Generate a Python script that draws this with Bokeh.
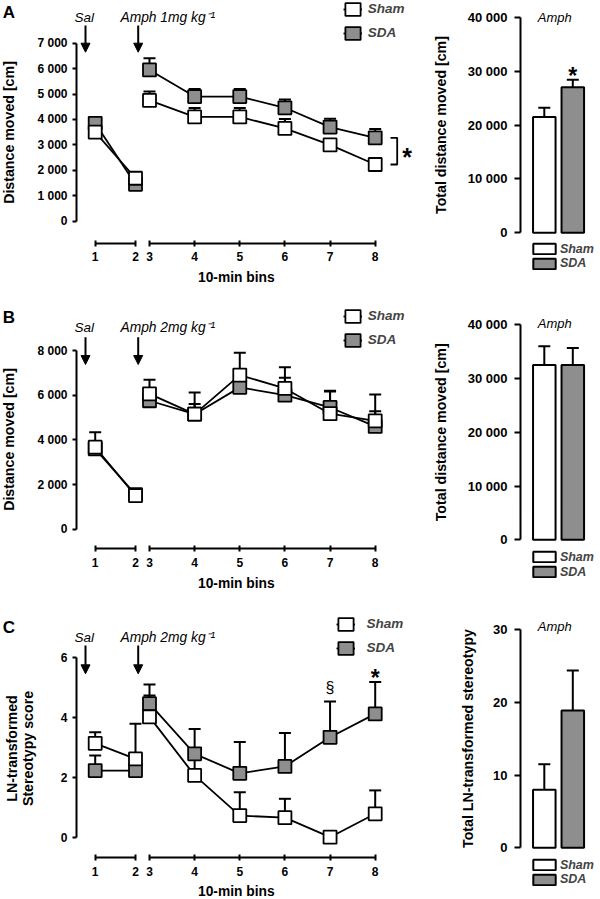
import math
from bokeh.plotting import figure
from bokeh.models import (ColumnDataSource, Range1d, LinearAxis, FixedTicker, Whisker, TeeHead,
                          Arrow, NormalHead, Label, Legend, LegendItem, CustomJSTickFormatter)
from bokeh.layouts import gridplot
from bokeh.embed import file_html
from bokeh.resources import INLINE

# ---------------- data ----------------
bins_sal = [1, 2]
bins_amph = [3, 4, 5, 6, 7, 8]
groups = ["Sham", "SDA"]

# Panel A  (Amph 1 mg/kg) distance moved [cm]
a_sham_sal = [3500, 1690]
a_sham_sal_err = [200, 150]
a_sda_sal = [3850, 1450]
a_sda_sal_err = [200, 150]
a_sham_amph = [4750, 4100, 4100, 3650, 3000, 2230]
a_sham_amph_err = [350, 350, 350, 370, 150, 150]
a_sda_amph = [5950, 4900, 4900, 4460, 3700, 3280]
a_sda_amph_err = [460, 300, 300, 330, 330, 350]
a_total = [21500, 27000]
a_total_err = [1700, 1400]
a_yticks = [0, 1000, 2000, 3000, 4000, 5000, 6000, 7000]
a_total_ticks = [0, 10000, 20000, 30000, 40000]

# Panel B  (Amph 2 mg/kg) distance moved [cm]
b_sham_sal = [3670, 1500]
b_sham_sal_err = [670, 150]
b_sda_sal = [3600, 1550]
b_sda_sal_err = [300, 150]
b_sham_amph = [6060, 5150, 6900, 6300, 5170, 4850]
b_sham_amph_err = [630, 970, 1000, 950, 1000, 1180]
b_sda_amph = [5750, 5150, 6350, 6000, 5450, 4600]
b_sda_amph_err = [400, 450, 400, 780, 750, 680]
b_total = [32500, 32500]
b_total_err = [3500, 3200]
b_yticks = [0, 2000, 4000, 6000, 8000]
b_total_ticks = [0, 10000, 20000, 30000, 40000]

# Panel C  (Amph 2 mg/kg) LN-transformed stereotypy score
c_sham_sal = [3.13, 2.61]
c_sham_sal_err = [0.37, 1.17]
c_sda_sal = [2.22, 2.22]
c_sda_sal_err = [0.50, 0.30]
c_sham_amph = [4.01, 2.06, 0.72, 0.65, 0.0, 0.78]
c_sham_amph_err = [0.71, 0.65, 0.78, 0.63, 0.0, 0.78]
c_sda_amph = [4.45, 2.78, 2.13, 2.36, 3.33, 4.11]
c_sda_amph_err = [0.64, 0.83, 1.04, 1.11, 1.19, 1.06]
c_total = [8.0, 18.9]
c_total_err = [3.5, 5.5]
c_yticks = [0, 2, 4, 6]
c_total_ticks = [0, 10, 20, 30]

# ---------------- layout / style ----------------
FONT = "Liberation Sans"
GREY = "#8e8e8e"
REF_W, REF_H = 600, 899
PAGE_W, PAGE_H = 600, 899
SX, SY = PAGE_W / REF_W, PAGE_H / REF_H
SPLIT = 425
ROW_EDGES = [0, 292, 592, 899]

LW = round(SPLIT * SX)
RW = PAGE_W - LW
cum = [round(e * SY) for e in ROW_EDGES]
cum[-1] = PAGE_H
HS = [cum[i + 1] - cum[i] for i in range(3)]
ROWS_REF = [(cum[i] / SY, cum[i + 1] / SY) for i in range(3)]
LEFT_REF = (0.0, LW / SX)
RIGHT_REF = (LW / SX, float(REF_W))


def pmap(p0, v0, p1, v1):
    k = (v1 - v0) / (p1 - p0)
    return lambda p: v0 + (p - p0) * k


X_AMPH = pmap(149.0, 3, 374.7, 8)
X_SAL = pmap(94.7, 1, 135.0, 2)
X_BAR = pmap(543.8, 0, 572.3, 1)

SPACE_FMT = CustomJSTickFormatter(
    code="return Math.round(tick).toString().replace(/\\B(?=(\\d{3})+(?!\\d))/g, ' ');")


def base_fig(xr, yr, w, h):
    p = figure(width=w, height=h, x_range=xr, y_range=yr, output_backend="svg",
               toolbar_location=None, min_border=0, x_axis_type=None, y_axis_type=None,
               title=None)
    p.outline_line_color = None
    return p


def style_axis(ax, size, tick_in, tick_out, standoff):
    ax.axis_line_width = 2
    ax.axis_line_color = "black"
    ax.major_tick_line_width = 2
    ax.major_tick_line_color = "black"
    ax.major_tick_in = tick_in
    ax.major_tick_out = tick_out
    ax.minor_tick_line_color = None
    ax.major_label_text_font = FONT
    ax.major_label_text_font_style = "bold"
    ax.major_label_text_font_size = f"{size}px"
    ax.major_label_standoff = standoff
    ax.major_label_text_color = "black"


def add_text(p, x, y, s, size, style="normal", align="center", baseline="middle", angle=0.0):
    p.add_layout(Label(x=x, y=y, text=s, text_font=FONT, text_font_size=f"{size}px",
                       text_font_style=style, text_align=align, text_baseline=baseline,
                       angle=angle, text_color="black"))


def whisker(src, base, lower, upper, rng="default"):
    return Whisker(source=src, base=base, lower=lower, upper=upper, dimension="height",
                   x_range_name=rng, level="underlay", line_width=2, line_color="black",
                   upper_head=TeeHead(size=12, line_width=2, line_color="black"), lower_head=None)


def left_panel(i, spec):
    top_ref, bot_ref = ROWS_REF[i]
    p0, v0, p1, v1 = spec["ymap"]
    y_of = pmap(p0, v0, p1, v1)   # ref px -> value
    py_of = pmap(v0, p0, v1, p1)  # value -> ref px
    p = base_fig(Range1d(X_AMPH(LEFT_REF[0]), X_AMPH(LEFT_REF[1])),
                 Range1d(y_of(bot_ref), y_of(top_ref)), LW, HS[i])
    p.extra_x_ranges = {"sal": Range1d(X_SAL(LEFT_REF[0]), X_SAL(LEFT_REF[1]))}

    ticks = spec["ticks"]
    yax = LinearAxis(fixed_location=X_AMPH(76), bounds=(ticks[0], ticks[-1]),
                     ticker=FixedTicker(ticks=ticks, minor_ticks=[]), formatter=SPACE_FMT)
    style_axis(yax, 12, 0, 4, 5)
    p.add_layout(yax, "left")
    xloc = y_of(spec["axis_y"])
    for bins, rng in [(bins_sal, "sal"), (bins_amph, "default")]:
        xax = LinearAxis(x_range_name=rng, fixed_location=xloc, bounds=(bins[0], bins[-1]),
                         ticker=FixedTicker(ticks=bins, minor_ticks=[]))
        style_axis(xax, 12, 3, 3, 6)
        p.add_layout(xax, "below")

    rend = {}
    for name, fill, sal_y, sal_e, am_y, am_e in spec["series"]:
        for xs, ys, es, rng in [(bins_sal, sal_y, sal_e, "sal"), (bins_amph, am_y, am_e, "default")]:
            src = ColumnDataSource(dict(x=xs, y=ys, up=[a + b for a, b in zip(ys, es)]))
            p.add_layout(whisker(src, "x", "y", "up", rng))
            ln = p.line("x", "y", source=src, x_range_name=rng, line_color="black", line_width=1.8)
            sq = p.rect("x", "y", width=13, height=13, width_units="screen", height_units="screen",
                        source=src, x_range_name=rng, fill_color=fill, line_color="black",
                        line_width=1.8)
            rend[name] = (ln, sq)

    # legend
    lx, ly = spec["legend"]
    gw, gh, sp = 19, 16, 8
    left_px = (lx - LEFT_REF[0]) * SX - gw / 2
    top_px = (ly - top_ref) * SY - gh / 2
    bottom_from_base = HS[i] - (top_px + 2 * gh + sp)
    leg = Legend(items=[LegendItem(label=g, renderers=list(rend[g])) for g in groups],
                 location=(left_px, bottom_from_base), orientation="vertical",
                 glyph_width=gw, glyph_height=gh, spacing=sp, padding=0, margin=0,
                 label_standoff=spec.get("standoff", 6), label_height=gh,
                 label_text_font=FONT, label_text_font_style="bold italic",
                 label_text_line_height=1.0,
                 label_text_font_size="13.5px", background_fill_alpha=0, border_line_alpha=0)
    p.add_layout(leg)

    # letters, treatment labels, arrows
    add_text(p, X_AMPH(8.5), y_of(spec["letter_y"]), spec["letter"], 17, "bold")
    add_text(p, X_AMPH(83.7), y_of(spec["text_y"]), "Sal", 13.5, "italic")
    add_text(p, X_AMPH(120), y_of(spec["text_y"]), spec["drug"], 13.8, "italic", align="left")
    a0, a1 = spec["arrow"]
    for ax_px in (85.0, 137.7):
        p.add_layout(Arrow(end=NormalHead(size=9, fill_color="black", line_color="black", line_width=1),
                           x_start=X_AMPH(ax_px), y_start=y_of(a0), x_end=X_AMPH(ax_px), y_end=y_of(a1),
                           line_width=2, line_color="black"))
    # axis titles
    add_text(p, X_AMPH(235.8), y_of(spec["bins_y"]), "10-min bins", 13.8, "bold")
    for tx, tt in zip(spec["title_x"], spec["title"]):
        add_text(p, X_AMPH(tx), y_of(spec["title_y"]), tt, 14.2, "bold", angle=math.pi / 2)

    return p, y_of, py_of


def right_panel(i, spec):
    top_ref, bot_ref = ROWS_REF[i]
    p0, v0, p1, v1 = spec["ymap"]
    y_of = pmap(p0, v0, p1, v1)
    py_of = pmap(v0, p0, v1, p1)
    p = base_fig(Range1d(X_BAR(RIGHT_REF[0]), X_BAR(RIGHT_REF[1])),
                 Range1d(y_of(bot_ref), y_of(top_ref)), RW, HS[i])
    ticks = spec["ticks"]
    yax = LinearAxis(fixed_location=X_BAR(520), bounds=(ticks[0], ticks[-1]),
                     ticker=FixedTicker(ticks=ticks, minor_ticks=[]), formatter=SPACE_FMT)
    style_axis(yax, 13, 0, 6, 7)
    p.add_layout(yax, "left")

    vals, errs = spec["vals"], spec["errs"]
    src = ColumnDataSource(dict(x=list(range(len(groups))), top=vals,
                                up=[a + b for a, b in zip(vals, errs)],
                                color=["white", GREY]))
    p.add_layout(whisker(src, "x", "top", "up"))
    r = p.vbar(x="x", top="top", bottom=0, width=0.79, source=src, fill_color="color",
               line_color="black", line_width=2)

    # one legend box per group, stacked at the reference's row pitch
    gw, gh = 28, 13
    row_h = 16
    row_pitch = 14.6
    left_px = (532.7 - RIGHT_REF[0]) * SX - 0.1 * gw
    for k, g in enumerate(groups):
        rect_top = spec["legend_top"] - 1 + k * row_pitch
        top_px = (rect_top - top_ref) * SY - 0.1 * gh - (row_h - gh) / 2
        bottom_from_base = HS[i] - (top_px + row_h)
        leg = Legend(items=[LegendItem(label=g, renderers=[r], index=k)],
                     location=(left_px, bottom_from_base), orientation="vertical",
                     glyph_width=gw, glyph_height=gh, spacing=0, padding=0, margin=0,
                     label_standoff=2, label_height=gh, label_text_line_height=0.85,
                     label_text_font=FONT, label_text_font_style="bold italic",
                     label_text_font_size="12.5px", background_fill_alpha=0, border_line_alpha=0)
        p.add_layout(leg)

    add_text(p, X_BAR(554.2), y_of(spec["amph_y"]), "Amph", 13, "italic")
    add_text(p, X_BAR(spec["title_x"]), y_of(spec["title_y"]), spec["title"], 14.2, "bold",
             angle=math.pi / 2)
    return p, y_of, py_of


left_specs = [
    dict(letter="A", drug="Amph 1mg kg\u207b\u00b9", ymap=(220.7, 0, 42.7, 7000), ticks=a_yticks,
         axis_y=242.7, letter_y=11.7, text_y=16.7, arrow=(25.0, 51.7), bins_y=277.2,
         title=["Distance moved [cm]"], title_x=[8.0], title_y=132.0, legend=(352.3, 8.8),
         series=[("SDA", GREY, a_sda_sal, a_sda_sal_err, a_sda_amph, a_sda_amph_err),
                 ("Sham", "white", a_sham_sal, a_sham_sal_err, a_sham_amph, a_sham_amph_err)]),
    dict(letter="B", drug="Amph 2mg kg\u207b\u00b9", ymap=(528.7, 0, 350.0, 8000), ticks=b_yticks,
         axis_y=548.3, letter_y=316.7, text_y=326.7, arrow=(336.7, 364.0), bins_y=582.5,
         title=["Distance moved [cm]"], title_x=[8.0], title_y=439.0, legend=(352.3, 315.8),
         series=[("SDA", GREY, b_sda_sal, b_sda_sal_err, b_sda_amph, b_sda_amph_err),
                 ("Sham", "white", b_sham_sal, b_sham_sal_err, b_sham_amph, b_sham_amph_err)]),
    dict(letter="C", drug="Amph 2mg kg\u207b\u00b9", ymap=(836.7, 0, 656.7, 6), ticks=c_yticks,
         axis_y=857.0, letter_y=626.7, text_y=636.7, arrow=(645.0, 673.3), bins_y=890.5,
         title=["LN-transformed", "Stereotypy score"], title_x=[11.0, 27.5], title_y=748.0,
         legend=(345.0, 623.8), standoff=12,
         series=[("SDA", GREY, c_sda_sal, c_sda_sal_err, c_sda_amph, c_sda_amph_err),
                 ("Sham", "white", c_sham_sal, c_sham_sal_err, c_sham_amph, c_sham_amph_err)]),
]
right_specs = [
    dict(ymap=(232.3, 0, 16.7, 40000), ticks=a_total_ticks, vals=a_total, errs=a_total_err,
         legend_top=243.3, amph_y=16.7, title="Total distance moved [cm]", title_x=440.5, title_y=124.5),
    dict(ymap=(539.3, 0, 324.3, 40000), ticks=b_total_ticks, vals=b_total, errs=b_total_err,
         legend_top=551.7, amph_y=322.5, title="Total distance moved [cm]", title_x=440.5, title_y=431.8),
    dict(ymap=(847.3, 0, 629.3, 30), ticks=c_total_ticks, vals=c_total, errs=c_total_err,
         legend_top=859.3, amph_y=625.8, title="Total LN-transformed stereotypy", title_x=467.5,
         title_y=738.0),
]

figs = []
for i in range(3):
    lp, ly_of, lpy_of = left_panel(i, left_specs[i])
    rp, ry_of, rpy_of = right_panel(i, right_specs[i])
    if i == 0:
        # significance bracket between the two groups at the last bin
        xb0, xb1 = X_AMPH(390.0), X_AMPH(396.7)
        lp.line([xb0, xb1, xb1, xb0], [a_sda_amph[-1], a_sda_amph[-1], a_sham_amph[-1], a_sham_amph[-1]],
                line_color="black", line_width=1.8)
        mid_px = (lpy_of(a_sda_amph[-1]) + lpy_of(a_sham_amph[-1])) / 2
        add_text(lp, X_AMPH(406.7), ly_of(mid_px + 6), "*", 25, "bold")
        cap_px = rpy_of(a_total[1] + a_total_err[1])
        add_text(rp, 1, ry_of(cap_px - 3.5), "*", 23, "bold")
    if i == 2:
        cap7 = lpy_of(c_sda_amph[4] + c_sda_amph_err[4])
        add_text(lp, bins_amph[4], ly_of(cap7 - 14.3), "\u00a7", 16)
        cap8 = lpy_of(c_sda_amph[5] + c_sda_amph_err[5])
        add_text(lp, bins_amph[5], ly_of(cap8 - 4.0), "*", 23, "bold")
    figs.append([lp, rp])

layout = gridplot(figs, toolbar_location=None)
open("out.html", "w").write(file_html(layout, INLINE))
